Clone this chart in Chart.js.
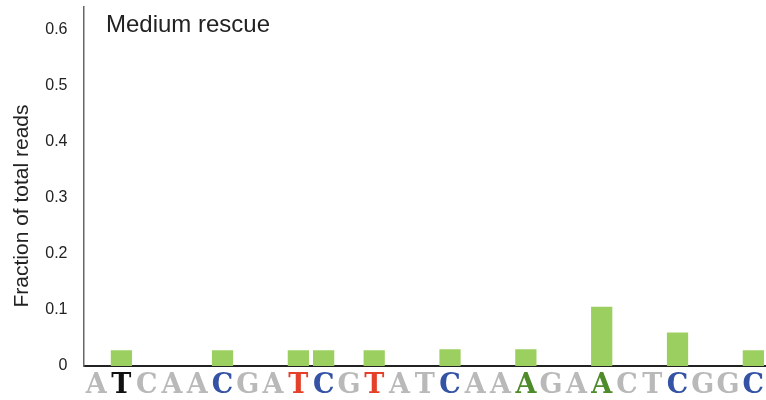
<!DOCTYPE html>
<html>
<head>
<meta charset="utf-8">
<script src="https://cdn.jsdelivr.net/npm/chart.js@4"></script>
<style>
  html, body { margin: 0; padding: 0; background: #fff; }
  #wrap { width: 766px; height: 400px; }
</style>
</head>
<body>
<div id="wrap"><canvas id="c" width="766" height="400"></canvas></div>
<script>
// Reference sequence, one base per position
const bases = ['A','T','C','A','A','C','G','A','T','C','G','T','A','T','C','A','A','A','G','A','A','C','T','C','G','G','C'];
// Colour of each base label (grey = unchanged, coloured = highlighted positions)
const baseColors = ['#b9b9b9','#111111','#b9b9b9','#b9b9b9','#b9b9b9','#3553a5','#b9b9b9','#b9b9b9','#e5402a','#3553a5','#b9b9b9','#e5402a','#b9b9b9','#b9b9b9','#3553a5','#b9b9b9','#b9b9b9','#4f8a2b','#b9b9b9','#b9b9b9','#4f8a2b','#b9b9b9','#b9b9b9','#3553a5','#b9b9b9','#b9b9b9','#3553a5'];
// Fraction of total reads at each position
const fractions = [0,0.028,0,0,0,0.028,0,0,0.028,0.028,0,0.028,0,0,0.03,0,0,0.03,0,0,0.106,0,0,0.06,0,0,0.028];
// Y axis tick values
const yTicks = [0, 0.1, 0.2, 0.3, 0.4, 0.5, 0.6];
const panelTitle = 'Medium rescue';
const yAxisTitle = 'Fraction of total reads';

const textPlugin = {
  id: 'panelText',
  afterDraw(chart) {
    const ctx = chart.ctx;
    ctx.save();
    ctx.fillStyle = '#222';
    ctx.font = '24px "Liberation Sans", Arial, sans-serif';
    ctx.textAlign = 'left';
    ctx.textBaseline = 'alphabetic';
    ctx.fillText(panelTitle, 106, 32);
    // rotated y axis title
    ctx.translate(22, 206);
    ctx.rotate(-Math.PI / 2);
    ctx.font = '21px "Liberation Sans", Arial, sans-serif';
    ctx.textAlign = 'center';
    ctx.textBaseline = 'middle';
    ctx.fillText(yAxisTitle, 0, 0);
    ctx.restore();
  }
};

new Chart(document.getElementById('c'), {
  type: 'bar',
  data: {
    labels: bases,
    datasets: [{
      data: fractions,
      backgroundColor: '#9bcf5f',
      borderWidth: 0,
      barPercentage: 0.84,
      categoryPercentage: 1.0
    }]
  },
  options: {
    responsive: false,
    animation: false,
    layout: { padding: { top: 7, right: 0, left: 0, bottom: 0 } },
    plugins: { legend: { display: false }, tooltip: { enabled: false } },
    scales: {
      x: {
        grid: { display: false, drawTicks: false },
        border: { color: '#222', width: 2 },
        ticks: {
          autoSkip: false,
          maxRotation: 0,
          padding: 4,
          font: { family: '"DejaVu Serif", serif', size: 27, weight: 'bold' },
          color: (ctx) => baseColors[ctx.index]
        },
        afterFit(scale) {
          scale.height = 34;
          scale.paddingLeft = 0;
          scale.paddingRight = 0;
        }
      },
      y: {
        min: 0,
        max: 0.641,
        grid: { display: false, drawTicks: false },
        border: { color: '#666', width: 1.5 },
        afterBuildTicks(scale) { scale.ticks = yTicks.map((v) => ({ value: v })); },
        ticks: {
          padding: 16,
          color: '#222',
          font: { family: '"Liberation Sans", Arial, sans-serif', size: 16 },
          callback: (v) => (v === 0 ? '0' : v.toFixed(1))
        },
        afterFit(scale) {
          scale.width = 83.5;
          scale.paddingTop = 0;
          scale.paddingBottom = 0;
        }
      }
    }
  },
  plugins: [textPlugin]
});
</script>
</body>
</html>
